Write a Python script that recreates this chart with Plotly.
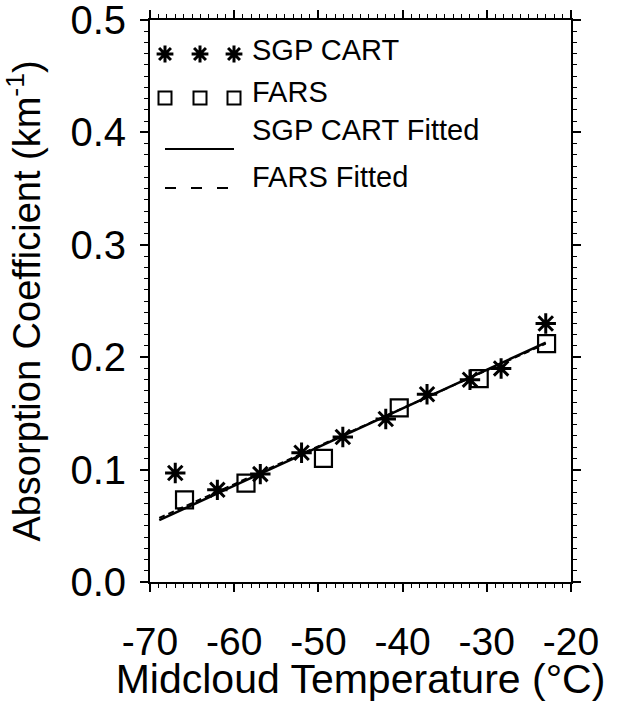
import plotly.graph_objects as go

# ---------------- data ----------------
sgp_temp = [-67.0, -62.0, -56.9, -52.0, -47.1, -42.0, -37.1, -32.0, -28.3, -23.0]
sgp_abs = [0.097, 0.082, 0.096, 0.115, 0.129, 0.145, 0.167, 0.180, 0.190, 0.230]

fars_temp = [-65.9, -58.6, -49.4, -40.4, -30.9, -22.9]
fars_abs = [0.073, 0.088, 0.110, 0.155, 0.181, 0.212]

fit_temp = [-68.9, -23.0]
sgp_fit_abs = [0.055, 0.213]
fars_fit_abs = [0.057, 0.212]

x_ticks = [-70, -60, -50, -40, -30, -20]
x_tick_labels = ["-70", "-60", "-50", "-40", "-30", "-20"]
y_ticks = [0.0, 0.1, 0.2, 0.3, 0.4, 0.5]
y_tick_labels = ["0.0", "0.1", "0.2", "0.3", "0.4", "0.5"]

legend_labels = ["SGP CART", "FARS", "SGP CART Fitted", "FARS Fitted"]

FONT = "Liberation Sans, Arial, Helvetica, sans-serif"
BLACK = "#000000"

fig = go.Figure()

# fitted lines
fig.add_trace(go.Scatter(x=fit_temp, y=sgp_fit_abs, mode="lines",
                         line=dict(color=BLACK, width=2.5), showlegend=False))
fig.add_trace(go.Scatter(x=fit_temp, y=fars_fit_abs, mode="lines",
                         line=dict(color=BLACK, width=2, dash="6px,4px"), showlegend=False))
# observations
fig.add_trace(go.Scatter(x=sgp_temp, y=sgp_abs, mode="markers",
                         marker=dict(symbol="asterisk", size=17, color=BLACK,
                                     line=dict(color=BLACK, width=3)),
                         showlegend=False))
fig.add_trace(go.Scatter(x=fars_temp, y=fars_abs, mode="markers",
                         marker=dict(symbol="square-open", size=17, color=BLACK,
                                     line=dict(color=BLACK, width=2.2)),
                         showlegend=False))

# ---------------- hand-built legend (pixel-space overlay axes) ----------------
key_x = [165, 200, 234]
row_key_y = [54, 98, 149, 188]
row_text_y = [50, 92, 130, 177]
text_x = 250

fig.add_trace(go.Scatter(x=key_x, y=[row_key_y[0]] * 3, xaxis="x2", yaxis="y2",
                         mode="markers", hoverinfo="skip", showlegend=False,
                         marker=dict(symbol="asterisk", size=14, color=BLACK,
                                     line=dict(color=BLACK, width=3))))
fig.add_trace(go.Scatter(x=key_x, y=[row_key_y[1]] * 3, xaxis="x2", yaxis="y2",
                         mode="markers", hoverinfo="skip", showlegend=False,
                         marker=dict(symbol="square-open", size=13, color=BLACK,
                                     line=dict(color=BLACK, width=2))))
fig.add_trace(go.Scatter(x=[key_x[0], key_x[-1]], y=[row_key_y[2]] * 2, xaxis="x2", yaxis="y2",
                         mode="lines", hoverinfo="skip", showlegend=False,
                         line=dict(color=BLACK, width=2)))
fig.add_trace(go.Scatter(x=[key_x[0], key_x[-1]], y=[row_key_y[3]] * 2, xaxis="x2", yaxis="y2",
                         mode="lines", hoverinfo="skip", showlegend=False,
                         line=dict(color=BLACK, width=2, dash="11px,15px")))

for lab, ty in zip(legend_labels, row_text_y):
    fig.add_annotation(x=text_x, y=ty, xref="x2", yref="y2", text=lab,
                       showarrow=False, xanchor="left", yanchor="middle",
                       font=dict(family=FONT, size=29, color=BLACK))

axis_common = dict(showline=True, linewidth=2, linecolor=BLACK, mirror="allticks",
                   ticks="outside", ticklen=8, tickwidth=2, tickcolor=BLACK,
                   showgrid=False, zeroline=False, ticklabeloverflow="allow")

fig.update_layout(
    width=620, height=702,
    margin=dict(l=150, r=49, t=20, b=120),
    plot_bgcolor="white", paper_bgcolor="white",
    font=dict(family=FONT, color=BLACK),
    showlegend=False,
    xaxis=dict(range=[-70, -20], tickmode="array", tickvals=x_ticks, ticktext=x_tick_labels,
               tickfont=dict(size=39, family=FONT, color=BLACK), ticklabelstandoff=16,
               minor=dict(dtick=1, ticks="outside", ticklen=4, tickwidth=1, tickcolor=BLACK),
               title=dict(text="Midcloud Temperature (°C)", standoff=2,
                          font=dict(size=41, family=FONT, color=BLACK)),
               automargin=False, **axis_common),
    yaxis=dict(range=[0, 0.5], tickmode="array", tickvals=y_ticks, ticktext=y_tick_labels,
               tickfont=dict(size=40, family=FONT, color=BLACK), ticklabelstandoff=6,
               minor=dict(dtick=0.01, ticks="outside", ticklen=4, tickwidth=1, tickcolor=BLACK),
               title=dict(text="Absorption Coefficient (km<sup>-1</sup>)", standoff=22,
                          font=dict(size=38, family=FONT, color=BLACK)),
               automargin=False, **axis_common),
    xaxis2=dict(range=[150, 571], overlaying="x", visible=False, fixedrange=True),
    yaxis2=dict(range=[582, 20], overlaying="y", visible=False, fixedrange=True),
)

fig.write_html("out.html")
